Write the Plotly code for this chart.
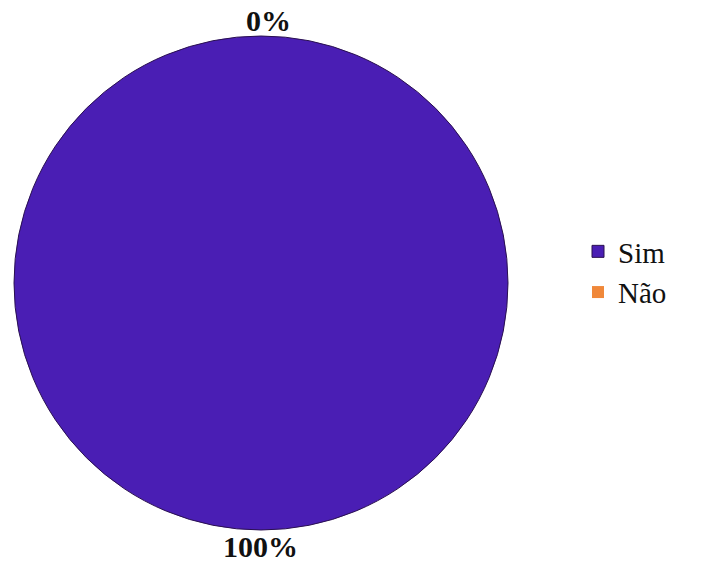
import plotly.graph_objects as go

# Survey answers
labels = ["Sim", "Não"]
values = [100, 0]
colors = ["#4a1eb4", "#f0883a"]

total = sum(values)
pct_text = [f"{round(v / total * 100)}%" for v in values]

W, H = 723, 565
cx, cy, r = 261, 283, 247  # pie centre and radius in pixels
serif = "Liberation Serif"

fig = go.Figure(
    go.Pie(
        labels=labels,
        values=values,
        sort=False,
        direction="clockwise",
        rotation=0,
        textinfo="none",
        hoverinfo="label+percent",
        marker=dict(colors=colors, line=dict(color="#2a1050", width=[1, 0])),
        domain=dict(
            x=[(cx - r) / W, (cx + r) / W],
            y=[(H - cy - r) / H, (H - cy + r) / H],
        ),
        showlegend=True,
    )
)

# Percentage labels: the "Não" share sits at the top, "Sim" at the bottom
label_font = dict(family=serif, size=30, color="#111111")
fig.add_annotation(
    text=f"<b>{pct_text[1]}</b>", x=(cx + 7) / W, y=(H - 20) / H,
    xref="paper", yref="paper", showarrow=False, font=label_font,
    xanchor="center", yanchor="middle",
)
fig.add_annotation(
    text=f"<b>{pct_text[0]}</b>", x=(cx - 1) / W, y=(H - 546) / H,
    xref="paper", yref="paper", showarrow=False, font=label_font,
    xanchor="center", yanchor="middle",
)

fig.update_layout(
    width=W,
    height=H,
    margin=dict(l=0, r=0, t=0, b=0),
    paper_bgcolor="white",
    plot_bgcolor="white",
    legend=dict(
        x=578 / W,
        y=(H - 272) / H,
        xanchor="left",
        yanchor="middle",
        font=dict(family=serif, size=29, color="#111111"),
        itemwidth=30,
    ),
)

fig.write_html("out.html")
